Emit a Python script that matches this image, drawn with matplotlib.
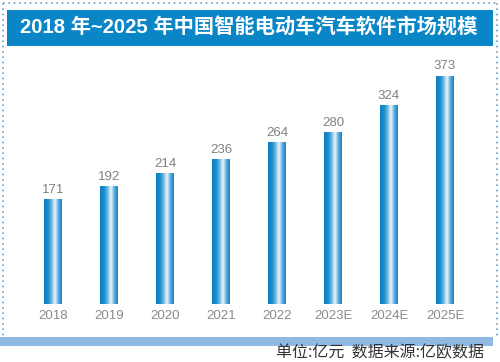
import numpy as np
import matplotlib
matplotlib.use("Agg")
import matplotlib.pyplot as plt
from matplotlib.colors import LinearSegmentedColormap
from matplotlib.patches import Rectangle
from matplotlib.lines import Line2D

plt.rcParams['font.family'] = ['Liberation Sans', 'Noto Sans CJK SC', 'DejaVu Sans']

years = ['2018', '2019', '2020', '2021', '2022', '2023E', '2024E', '2025E']
values = [171, 192, 214, 236, 264, 280, 324, 373]
title = '2018 年~2025 年中国智能电动车汽车软件市场规模'
footer = '单位:亿元  数据来源:亿欧数据'

W, H = 500, 362
fig = plt.figure(figsize=(5, 3.62), dpi=100)
fig.patch.set_facecolor('white')

def fx(px):
    return px / W

def fy(py):
    return 1 - py / H

# dotted frame
dot = dict(color='#6a9fd4', lw=1.2, ls=(0, (1, 2.2)), transform=fig.transFigure)
fig.add_artist(Line2D([fx(3), fx(3)], [fy(3), fy(338)], **dot))
fig.add_artist(Line2D([fx(3), fx(497)], [fy(3), fy(3)], **dot))
fig.add_artist(Line2D([fx(497), fx(497)], [fy(3), fy(338)], **dot))

# title bar
fig.add_artist(Rectangle((fx(7), fy(46)), fx(486), 36 / H, transform=fig.transFigure,
                         facecolor='#0a86c6', edgecolor='none'))
fig.text(fx(249), fy(28), title, color='white', fontsize=14.6, fontweight='bold',
         ha='center', va='center')

# bottom band
fig.add_artist(Rectangle((0, fy(346)), fx(493), 9 / H, transform=fig.transFigure,
                         facecolor='#8fb8e2', edgecolor='none'))
fig.text(fx(484), fy(353), footer, color='#333333', fontsize=11.5, ha='right', va='center',
         family=['Noto Sans CJK SC'])

ax = fig.add_axes([fx(25), fy(304), fx(448), 244.5 / H])
ax.axis('off')

cmap = LinearSegmentedColormap.from_list('bar', [
    (0.0, '#0c7fc0'), (0.25, '#1f8fcd'), (0.45, '#7cc0e6'),
    (0.62, '#f2f9fd'), (0.8, '#5aaedc'), (1.0, '#1184c4')])
grad = np.linspace(0, 1, 64).reshape(1, -1)
bw = 0.32
for i, v in enumerate(values):
    ax.imshow(grad, cmap=cmap, aspect='auto', extent=(i - bw / 2, i + bw / 2, 0, v),
              interpolation='bicubic', zorder=2)
    ax.text(i, v + 6, str(v), ha='center', va='bottom', color='#808080', fontsize=9.5)
    ax.text(i, -9, years[i], ha='center', va='top', color='#8a8a8a', fontsize=9.5)
ax.set_xlim(-0.5, 7.5)
ax.set_ylim(0, 400)

fig.savefig('out.png', dpi=100)
